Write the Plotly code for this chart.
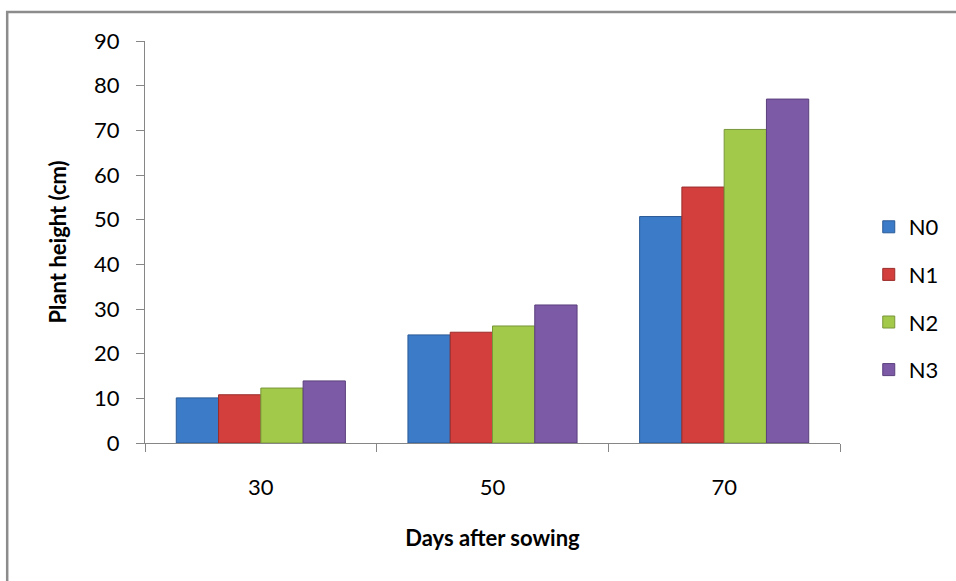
import plotly.graph_objects as go

days = ["30", "50", "70"]
series_names = ["N0", "N1", "N2", "N3"]
N0 = [10.1, 24.2, 50.7]
N1 = [10.8, 24.8, 57.3]
N2 = [12.3, 26.2, 70.2]
N3 = [13.9, 30.9, 77.0]
values = [N0, N1, N2, N3]
y_ticks = [0, 10, 20, 30, 40, 50, 60, 70, 80, 90]

colors = ["#3C7BC8", "#D23F3C", "#A3C94A", "#7D5AA6"]
edges = ["#2A5A96", "#9A2C2A", "#78963A", "#5A3F7C"]

FONT = "Lato"
W, H = 956, 581
L, R, T, B = 145, 110, 41, 138
pw, ph = W - L - R, H - T - B

fig = go.Figure()
for i, (name, vals) in enumerate(zip(series_names, values)):
    fig.add_trace(go.Bar(
        x=days, y=vals, name=name, legendgroup=name,
        marker=dict(color=colors[i], line=dict(color=edges[i], width=1)),
    ))

def px_x(x):
    return (x - L) / pw

def px_y(y):
    return (H - B - y) / ph

fig.update_layout(
    width=W, height=H,
    margin=dict(l=L, r=R, t=T, b=B),
    paper_bgcolor="white", plot_bgcolor="white",
    barmode="group", bargap=0.27, bargroupgap=0,
    font=dict(family=FONT, size=22, color="black"),
    showlegend=True,
    legend=dict(
        x=px_x(875), xanchor="left",
        y=px_y(298.5), yanchor="middle",
        font=dict(family=FONT, size=22, color="black"),
        traceorder="grouped", tracegroupgap=16,
        bgcolor="rgba(0,0,0,0)",
    ),
    xaxis=dict(
        type="category",
        showline=True, linecolor="#868686", linewidth=1,
        ticks="outside", tickson="boundaries", ticklen=8, tickcolor="#868686",
        showgrid=False,
        tickfont=dict(family=FONT, size=22, color="black"),
        ticklabelstandoff=25,
        title=dict(text="<b>Days after sowing</b>", font=dict(family=FONT, size=22, color="black"), standoff=31),
    ),
    yaxis=dict(
        range=[0, 90], tickvals=y_ticks,
        showline=True, linecolor="#868686", linewidth=1,
        ticks="outside", ticklen=8, tickcolor="#868686",
        showgrid=False, zeroline=False,
        tickfont=dict(family=FONT, size=22, color="black"),
        ticklabelstandoff=12,
        title=dict(text="<b>Plant height (cm)</b>", font=dict(family=FONT, size=22, color="black"), standoff=21),
    ),
    shapes=[dict(
        type="rect", xref="paper", yref="paper",
        x0=px_x(6), x1=px_x(W + 60), y0=px_y(H + 60), y1=px_y(12),
        line=dict(color="#8C8C8C", width=2.5), fillcolor="rgba(0,0,0,0)", layer="below",
    )],
)

fig.write_html(
    "out.html",
    config={"displayModeBar": False},
    post_script="document.body.style.margin='0';document.body.style.overflow='hidden';",
)
